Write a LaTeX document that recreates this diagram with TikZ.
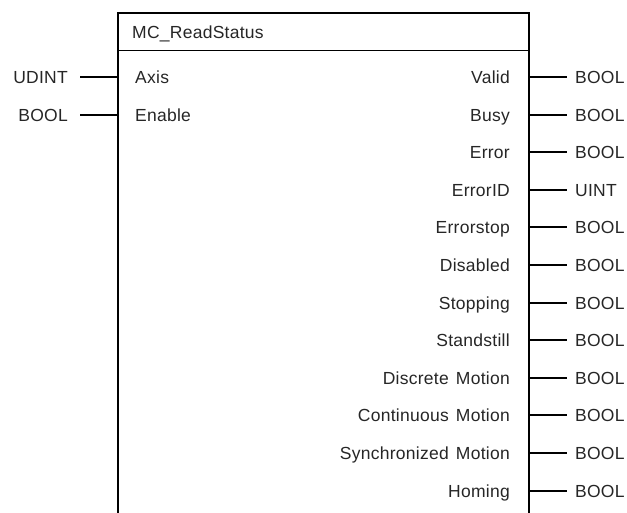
\documentclass[tikz,border=0pt]{standalone}
\usepackage{fontspec}
\setmainfont[LetterSpace=1.5,WordSpace=1.4]{Liberation Sans}
\begin{document}
\begin{tikzpicture}[x=1pt,y=-1pt,
  lbl/.style={inner sep=0pt,text=black!85,font=\fontsize{17.5}{20}\selectfont},
  inlbl/.style={lbl,anchor=base west},
  outlbl/.style={lbl,anchor=base east},
  typL/.style={lbl,anchor=base east},
  typR/.style={lbl,anchor=base west},
  frame/.style={line width=2pt},
  stub/.style={line width=2pt},
  divider/.style={line width=1pt}]
\useasboundingbox (0,0) rectangle (627,512);
\clip (0,0) rectangle (627,512);
% block outline, open at the lower edge
\coordinate (tl) at (118,13);
\coordinate (tr) at (529,13);
\draw[frame] (118,520) -- (tl) -- (tr) -- (529,520);
\draw[divider] (118,50) -- (529,50);
\node[lbl,anchor=base west] (title) at (132,38) {MC\_ReadStatus};
% inputs
\foreach \i/\name/\typ in {0/Axis/UDINT,1/Enable/BOOL}{
  \pgfmathsetmacro{\yy}{77+37.6*\i}
  \coordinate (inpin\i) at (118,\yy);
  \coordinate (inend\i) at (80,\yy);
  \node[inlbl] (in\i) at (135,\yy+6.5) {\name};
  \node[typL] (intyp\i) at (68,\yy+6.5) {\typ};
  \draw[stub] (inend\i) -- (inpin\i);
}
% outputs
\foreach \i/\name/\typ in {0/Valid/BOOL,1/Busy/BOOL,2/Error/BOOL,3/ErrorID/UINT,
  4/Errorstop/BOOL,5/Disabled/BOOL,6/Stopping/BOOL,7/Standstill/BOOL,
  8/Discrete Motion/BOOL,9/Continuous Motion/BOOL,10/Synchronized Motion/BOOL,
  11/Homing/BOOL}{
  \pgfmathsetmacro{\yy}{77+37.6*\i}
  \coordinate (outpin\i) at (529,\yy);
  \coordinate (outend\i) at (567,\yy);
  \node[outlbl] (out\i) at (510,\yy+6.5) {\name};
  \node[typR] (outtyp\i) at (575,\yy+6.5) {\typ};
  \draw[stub] (outpin\i) -- (outend\i);
}
\end{tikzpicture}
\end{document}
